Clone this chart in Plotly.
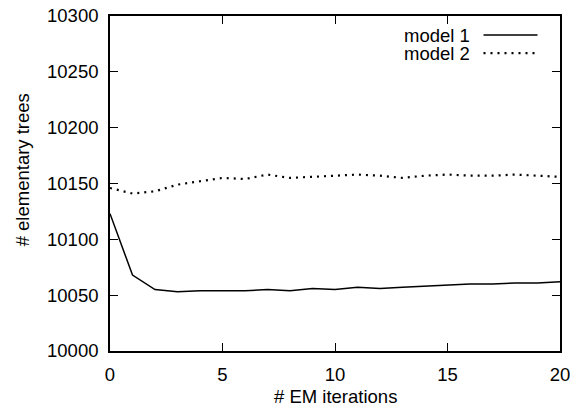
import plotly.graph_objects as go

iterations = list(range(21))
model1 = [10123, 10068, 10055, 10053, 10054, 10054, 10054, 10055, 10054, 10056, 10055,
          10057, 10056, 10057, 10058, 10059, 10060, 10060, 10061, 10061, 10062]
model2 = [10146, 10141, 10143, 10149, 10152, 10155, 10154, 10158, 10155, 10156, 10157,
          10158, 10157, 10155, 10157, 10158, 10157, 10157, 10158, 10157, 10156]
series_names = ["model 1", "model 2"]
x_ticks = [0, 5, 10, 15, 20]
y_ticks = [10000, 10050, 10100, 10150, 10200, 10250, 10300]

FONT = "Liberation Sans, Arial, Helvetica, sans-serif"
FS = 18.5

fig = go.Figure()
fig.add_trace(go.Scatter(x=iterations, y=model1, mode="lines", name=series_names[0],
                         line=dict(color="black", width=1.5), showlegend=False))
fig.add_trace(go.Scatter(x=iterations, y=model2, mode="lines", name=series_names[1],
                         line=dict(color="black", width=2.2, dash="2px,5px"), showlegend=False))

axis_common = dict(showline=True, linecolor="black", linewidth=1.6, mirror="allticks",
                   ticks="inside", ticklen=8, tickwidth=1.2, tickcolor="black",
                   showgrid=False, zeroline=False, automargin=False,
                   ticklabeloverflow="allow",
                   tickfont=dict(family=FONT, size=FS, color="black"))

fig.update_xaxes(range=[0, 20], tickvals=x_ticks, ticktext=[str(v) for v in x_ticks],
                 ticklabelstandoff=6, **axis_common)
fig.update_yaxes(range=[10000, 10300], tickvals=y_ticks, ticktext=[str(v) for v in y_ticks],
                 ticklabelstandoff=6, **axis_common)

# legend (gnuplot style: text right-aligned, sample to the right)
leg_y = [0.943, 0.889]
for name, yy, dash, w in zip(series_names, leg_y, ["solid", "2px,5px"], [1.5, 2.2]):
    fig.add_annotation(text=name, x=0.802, y=yy, xref="paper", yref="paper",
                       xanchor="right", yanchor="middle", showarrow=False, borderpad=0,
                       font=dict(family=FONT, size=FS, color="black"))
    fig.add_shape(type="line", xref="paper", yref="paper", x0=0.83, x1=0.95, y0=yy, y1=yy,
                  line=dict(color="black", width=w, dash=dash))

fig.add_annotation(text="# EM iterations", x=0.5, y=-0.135, xref="paper", yref="paper",
                   xanchor="center", yanchor="middle", showarrow=False,
                   font=dict(family=FONT, size=FS, color="black"))
fig.add_annotation(text="# elementary trees", x=-0.195, y=0.54, xref="paper", yref="paper",
                   xanchor="center", yanchor="middle", showarrow=False, textangle=-90,
                   font=dict(family=FONT, size=FS, color="black"))

fig.update_layout(width=577, height=410, margin=dict(l=110, r=17, t=16, b=59, autoexpand=False),
                  plot_bgcolor="white", paper_bgcolor="white",
                  font=dict(family=FONT, size=FS, color="black"))

# remove the default page margin so the figure fills the 577x410 window
fig.write_html("out.html", config={"displayModeBar": False},
               post_script="document.body.style.margin='0px';")
